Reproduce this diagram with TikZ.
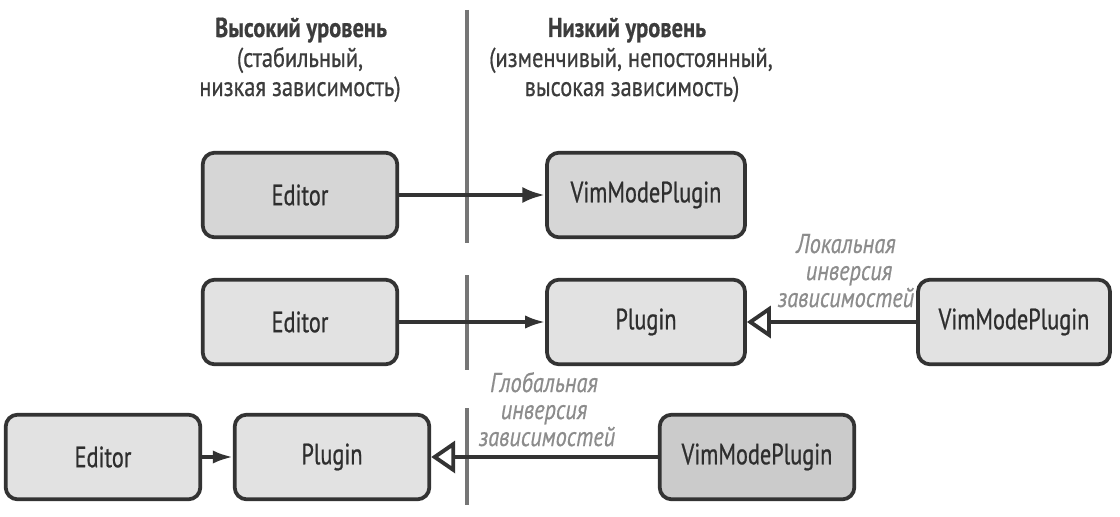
\documentclass[tikz,border=0pt]{standalone}
\usepackage{fontspec}
\setmainfont[FakeStretch=0.82,FakeBold=0.6]{PT Sans}
\newfontfamily\boxfont[FakeStretch=0.76,FakeBold=0.7]{PT Sans}
\usetikzlibrary{arrows.meta}
\definecolor{boxA}{HTML}{D6D6D6}
\definecolor{boxB}{HTML}{E2E2E2}
\definecolor{boxC}{HTML}{CBCBCB}
\definecolor{edge}{HTML}{333333}
\definecolor{divc}{HTML}{767676}
\definecolor{labc}{HTML}{8C8C8C}
\definecolor{headc}{HTML}{3C3C3C}
\definecolor{boxt}{HTML}{2E2E2E}
\begin{document}
\begin{tikzpicture}[x=0.75pt,y=-0.75pt,
  box/.style={draw=edge, line width=2.8pt, rounded corners=9pt, minimum height=63.5pt, minimum width=#1, text=boxt, font=\boxfont\fontsize{22}{22}\selectfont, inner sep=0pt},
  box/.default=146pt,
  divider/.style={draw=divc, line width=3.6pt},
  head/.style={anchor=base, inner sep=0pt, text=headc, font=\fontsize{20.5}{22}\selectfont},
  lab/.style={anchor=base, inner sep=0pt, text=labc, font=\fontsize{20.5}{22}\selectfont\itshape},
  depA/.style={draw=edge, line width=3.2pt, -{Latex[length=17pt,width=12pt]}},
  depB/.style={draw=edge, line width=2.6pt, -{Latex[length=15pt,width=10pt]}},
  inv/.style={draw=edge, line width=2.9pt, -{Triangle[open,length=18pt,width=24pt,fill=white]}}
]
\useasboundingbox (0,0) rectangle (1120,517);
% dividers
\coordinate (d1a) at (467,10); \coordinate (d1b) at (467,243);
\coordinate (d2a) at (467,275); \coordinate (d2b) at (467,370);
\coordinate (d3a) at (467,408); \coordinate (d3b) at (467,505);
\draw[divider] (d1a) -- (d1b);
\draw[divider] (d2a) -- (d2b);
\draw[divider] (d3a) -- (d3b);
% headings
\node[head] (hl1) at (301,37) {\textbf{Высокий уровень}};
\node[head] (hl2) at (300,67) {(стабильный,};
\node[head] (hl3) at (300,96) {низкая зависимость)};
\node[head] (hr1) at (627,37) {\textbf{Низкий уровень}};
\node[head] (hr2) at (631,67) {(изменчивый, непостоянный,};
\node[head] (hr3) at (632,96) {высокая зависимость)};
% row 1
\node[box, fill=boxA] (e1) at (300,195) {Editor};
\node[box=148.5pt, fill=boxA] (v1) at (646,195) {VimModePlugin};
\draw[depA] (e1) -- (v1);
% row 2
\node[box, fill=boxB] (e2) at (300,322) {Editor};
\node[box=148.5pt, fill=boxB] (p2) at (646,322) {Plugin};
\node[box=144pt, fill=boxB] (v2) at (1014,322) {VimModePlugin};
\draw[depB] (e2) -- (p2);
\draw[inv] (v2) -- (p2);
\node[lab] (l2a) at (846,253) {Локальная};
\node[lab] (l2b) at (849,280) {инверсия};
\node[lab] (l2c) at (846,307) {зависимостей};
% row 3
\node[box, fill=boxB] (e3) at (103,457) {Editor};
\node[box, fill=boxB] (p3) at (332,457) {Plugin};
\node[box, fill=boxC] (v3) at (757,457) {VimModePlugin};
\draw[depB] (e3) -- (p3);
\draw[inv] (v3) -- (p3);
\node[lab] (l3a) at (544,392) {Глобальная};
\node[lab] (l3b) at (544,419) {инверсия};
\node[lab] (l3c) at (547,446) {зависимостей};
\end{tikzpicture}
\end{document}
